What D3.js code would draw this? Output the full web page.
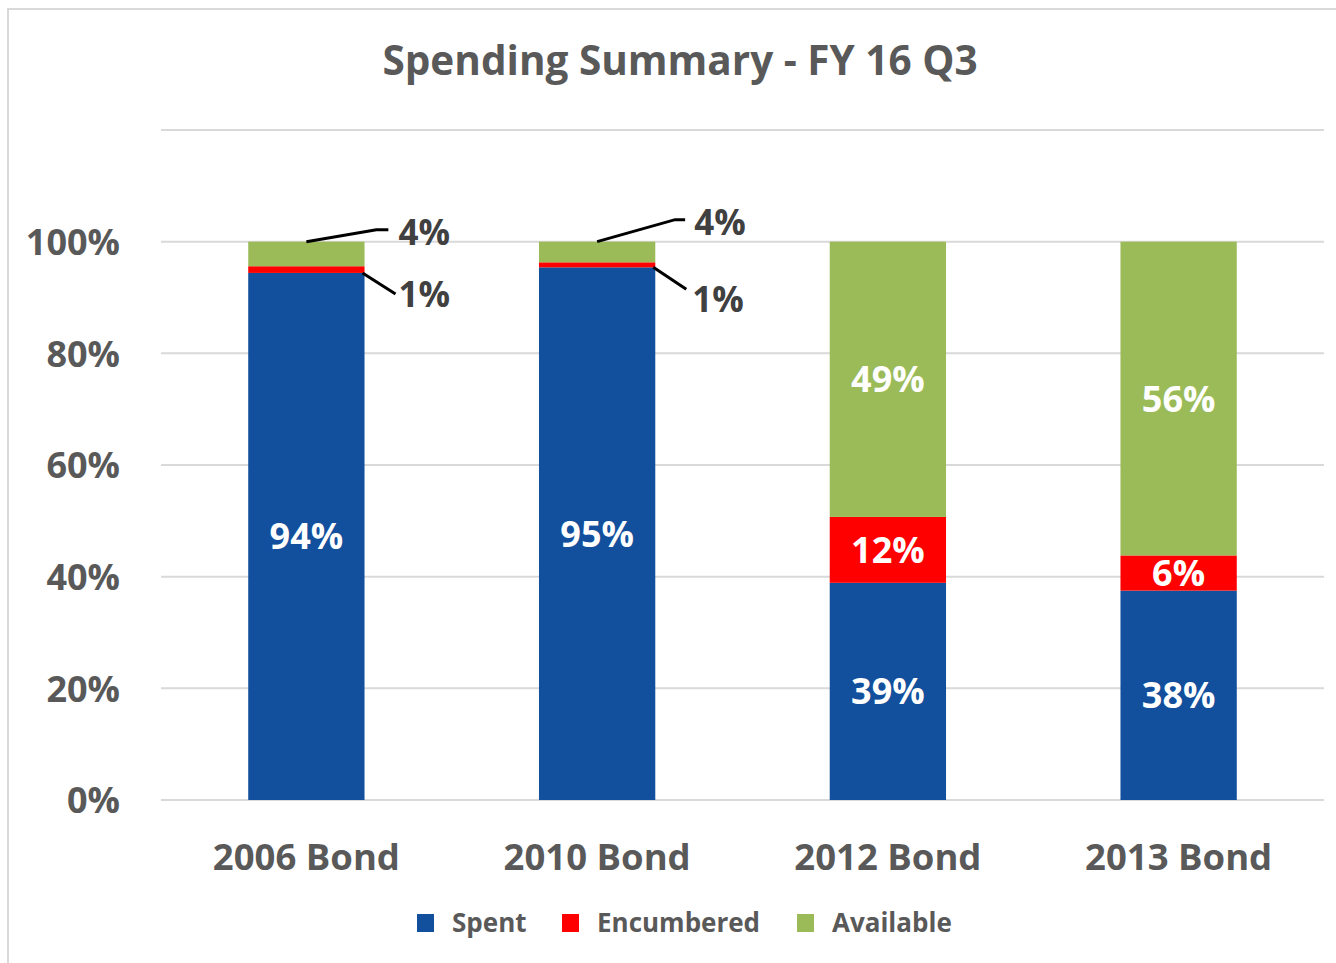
<html>
<head>
<title>Spending Summary</title>
<script src="https://d3js.org/d3.v7.min.js"></script>
<style>
  body { margin: 0; background: #fff; }
  text { font-family: "Open Sans", "Noto Sans", sans-serif; font-weight: bold; }
</style>
</head>
<body>
<script>
var categories = ["2006 Bond", "2010 Bond", "2012 Bond", "2013 Bond"];
var spent      = [0.944, 0.954, 0.389, 0.375];
var encumbered = [0.012, 0.009, 0.118, 0.063];
var available  = [0.044, 0.037, 0.493, 0.562];
var seriesNames = ["Spent", "Encumbered", "Available"];
var seriesColors = ["#124f9c", "#ff0000", "#9bbb59"];
var yTicks = [0, 0.2, 0.4, 0.6, 0.8, 1.0];
var gridTicks = [0, 0.2, 0.4, 0.6, 0.8, 1.0, 1.2];

var W = 1336, H = 963;
var svg = d3.select("body").append("svg").attr("width", W).attr("height", H);

// chart frame
svg.append("rect").attr("x", 8).attr("y", 9).attr("width", W).attr("height", H)
   .attr("fill", "none").attr("stroke", "#d9d9d9").attr("stroke-width", 2);

svg.append("text").attr("x", 680).attr("y", 75).attr("text-anchor", "middle")
   .attr("font-size", 40.5).attr("fill", "#595959").text("Spending Summary - FY 16 Q3");

var x = d3.scaleBand().domain(categories).range([161, 1324]).paddingInner(0.6).paddingOuter(0.3);
var y = d3.scaleLinear().domain([0, 1.2]).range([800, 130]);

// gridlines
svg.append("g").selectAll("line").data(gridTicks).enter().append("line")
   .attr("x1", 161).attr("x2", 1324)
   .attr("y1", function(d){ return y(d); }).attr("y2", function(d){ return y(d); })
   .attr("stroke", "#d9d9d9").attr("stroke-width", 2);

// y axis labels
var yAxis = svg.append("g").attr("transform", "translate(120,0)")
   .call(d3.axisLeft(y).tickValues(yTicks).tickFormat(d3.format(".0%")).tickSize(0).tickPadding(0));
yAxis.select(".domain").remove();
yAxis.selectAll("text").attr("font-size", 36).attr("fill", "#595959")
   .attr("font-family", null).attr("dy", "0.36em");

// x axis labels
var xAxis = svg.append("g").attr("transform", "translate(0,800)")
   .call(d3.axisBottom(x).tickSize(0).tickPadding(57));
xAxis.select(".domain").remove();
xAxis.selectAll("text").attr("font-size", 36.5).attr("fill", "#595959")
   .attr("font-family", null).attr("dy", "0.36em");

// stacked data
var rows = categories.map(function(c, i){
  return { cat: c, Spent: spent[i], Encumbered: encumbered[i], Available: available[i] };
});
var stack = d3.stack().keys(seriesNames)(rows);

var layers = svg.append("g").selectAll("g").data(stack).enter().append("g")
   .attr("fill", function(d, i){ return seriesColors[i]; });
layers.selectAll("rect").data(function(d){ return d; }).enter().append("rect")
   .attr("x", function(d){ return x(d.data.cat); })
   .attr("width", x.bandwidth())
   .attr("y", function(d){ return y(d[1]); })
   .attr("height", function(d){ return y(d[0]) - y(d[1]); });

// labels inside segments (only big enough ones)
var fmt = function(v){ return Math.round(v * 100) + "%"; };
stack.forEach(function(layer){
  layer.forEach(function(d){
    var v = d[1] - d[0];
    if (v < 0.05) return;
    svg.append("text")
       .attr("x", x(d.data.cat) + x.bandwidth() / 2)
       .attr("y", (y(d[0]) + y(d[1])) / 2)
       .attr("dy", "0.36em").attr("text-anchor", "middle")
       .attr("font-size", 36).attr("fill", "#fff").text(fmt(v));
  });
});

// callout labels for small segments
var callouts = [
  { i: 0, key: "Available", dx1: 70, dy1: -12, dx2: 82, tx: 10, ty: 3 },
  { i: 0, key: "Encumbered", dx1: 33, dy1: 21, tx: 3, ty: 0 },
  { i: 1, key: "Available", dx1: 78, dy1: -22, dx2: 88, tx: 9, ty: 3 },
  { i: 1, key: "Encumbered", dx1: 33, dy1: 22, tx: 6, ty: 10 }
];
callouts.forEach(function(c){
  var layer = stack[seriesNames.indexOf(c.key)];
  var d = layer[c.i];
  var v = d[1] - d[0];
  var x0, y0, pts;
  if (c.key === "Available") {
    x0 = x(d.data.cat) + x.bandwidth() / 2; y0 = y(d[1]);
    pts = [[x0, y0], [x0 + c.dx1, y0 + c.dy1], [x0 + c.dx2, y0 + c.dy1]];
  } else {
    x0 = x(d.data.cat) + x.bandwidth() - 2; y0 = y(d[0]);
    pts = [[x0, y0], [x0 + c.dx1, y0 + c.dy1]];
  }
  svg.append("path").attr("d", d3.line()(pts))
     .attr("fill", "none").attr("stroke", "#000").attr("stroke-width", 3);
  var ex = pts[pts.length - 1];
  svg.append("text").attr("x", ex[0] + c.tx).attr("y", ex[1] + c.ty)
     .attr("dy", "0.36em").attr("font-size", 35).attr("fill", "#404040").text(fmt(v));
});

// legend
var legX = [417, 562, 797];
var leg = svg.append("g").selectAll("g").data(seriesNames).enter().append("g")
   .attr("transform", function(d, i){ return "translate(" + legX[i] + ",914)"; });
leg.append("rect").attr("width", 17).attr("height", 18)
   .attr("fill", function(d, i){ return seriesColors[i]; });
leg.append("text").attr("x", 35).attr("y", 9).attr("dy", "0.36em")
   .attr("font-size", 26).attr("fill", "#595959").text(function(d){ return d; });
</script>
</body>
</html>
